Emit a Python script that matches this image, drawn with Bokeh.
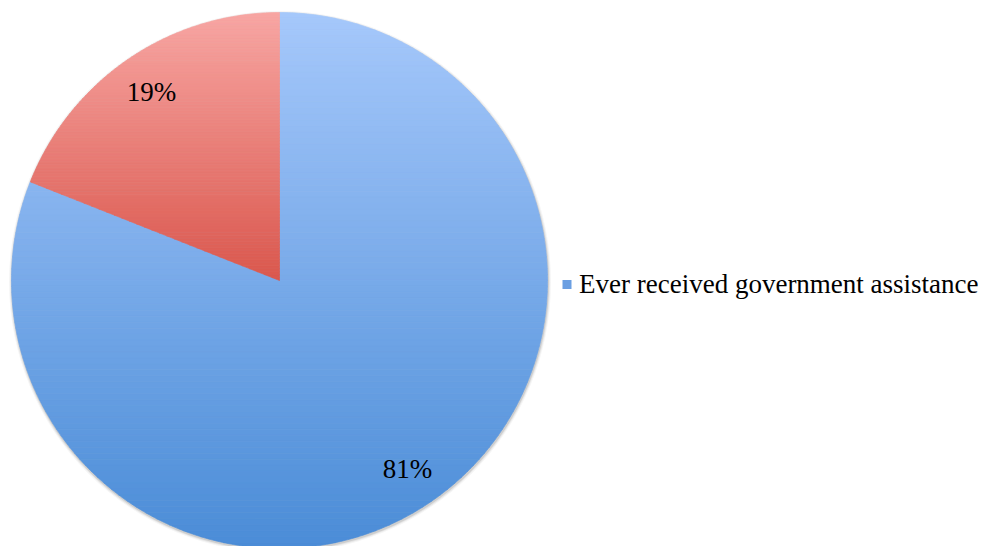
import numpy as np
from bokeh.plotting import figure
from bokeh.models import Range1d
from bokeh.core.properties import value
from bokeh.embed import file_html
from bokeh.resources import INLINE

# ---- data ----
categories = ["Ever received government assistance", "Never received government assistance"]
values = [81, 19]
labels = ["81%", "19%"]
show_in_legend = [True, False]

# ---- style ----
top_colors = ["#a6c8fb", "#f8a6a3"]
bottom_colors = ["#4a8cd7", "#da574d"]
legend_color = "#6b9fe2"
FONT = "'Liberation Serif', 'Times New Roman', serif"

W, H = 997, 546
cx, cy, R = 279.0, 266.0, 268.0

p = figure(width=W, height=H, output_backend="svg", toolbar_location=None,
           x_range=Range1d(0, W), y_range=Range1d(0, H), min_border=0,
           x_axis_location=None, y_axis_location=None)
p.grid.visible = False
p.outline_line_color = None
p.background_fill_color = "white"


def hex2rgb(h):
    h = h.lstrip("#")
    return np.array([int(h[i:i + 2], 16) for i in (0, 2, 4)], dtype=float)


def mix(c0, c1, t):
    c = hex2rgb(c0) * (1 - t) + hex2rgb(c1) * t
    return "#%02x%02x%02x" % tuple(int(round(v)) for v in c)


def clip(poly, y0, keep_above):
    out = []
    n = len(poly)
    for i in range(n):
        P = poly[i]
        Q = poly[(i + 1) % n]
        pin = P[1] >= y0 if keep_above else P[1] <= y0
        qin = Q[1] >= y0 if keep_above else Q[1] <= y0
        if pin:
            out.append(P)
        if pin != qin:
            t = (y0 - P[1]) / (Q[1] - P[1])
            out.append((P[0] + t * (Q[0] - P[0]), y0))
    return out


# shadow
for extra, alpha in [(3.0, 0.04), (2.0, 0.06), (1.0, 0.10)]:
    p.circle(x=[cx + 0.5], y=[cy - 1.5], radius=R + extra, fill_color="black",
             fill_alpha=alpha, line_color=None)

total = float(sum(values))
start = 90.0
cum = 0.0
xs_all, ys_all, cols_all = [], [], []
lab_x, lab_y = [], []
for i, v in enumerate(values):
    a0 = start - 360.0 * cum / total
    a1 = start - 360.0 * (cum + v) / total
    cum += v
    n = max(8, int(abs(a1 - a0) * 2))
    angs = np.radians(np.linspace(a0, a1, n))
    poly = [(cx, cy)] + [(cx + R * np.cos(a), cy + R * np.sin(a)) for a in angs]
    ymax = max(pt[1] for pt in poly)
    ymin = min(pt[1] for pt in poly)
    N = 90
    h = (ymax - ymin) / N
    for k in range(N):
        yt = ymax - k * h
        yb = ymax - (k + 1) * h
        part = clip(poly, yb, True)
        if len(part) < 3:
            continue
        part = clip(part, yt, False)
        if len(part) < 3:
            continue
        xs_all.append([q[0] for q in part])
        ys_all.append([q[1] for q in part])
        cols_all.append(mix(top_colors[i], bottom_colors[i], (k + 0.5) / N))
    mid = np.radians((a0 + a1) / 2)
    lab_x.append(cx + 0.85 * R * np.cos(mid))
    lab_y.append(cy + 0.85 * R * np.sin(mid))

p.patches(xs=xs_all, ys=ys_all, fill_color=cols_all, line_color=cols_all, line_width=0.7)

p.text(x=lab_x, y=lab_y, text=labels, text_font=value(FONT), text_font_size="27px",
       text_align="center", text_baseline="middle", text_color="black")

# legend
leg_items = [c for c, s in zip(categories, show_in_legend) if s]
lx, ly = 566.5, 262.0
p.scatter(x=[lx] * len(leg_items), y=[ly] * len(leg_items), marker="square", size=9,
          fill_color=legend_color, line_color=None)
p.text(x=[lx + 12] * len(leg_items), y=[ly + 1] * len(leg_items), text=leg_items,
       text_font=value(FONT), text_font_size="27px", text_align="left",
       text_baseline="middle", text_color="black")

open("out.html", "w").write(file_html(p, INLINE))
